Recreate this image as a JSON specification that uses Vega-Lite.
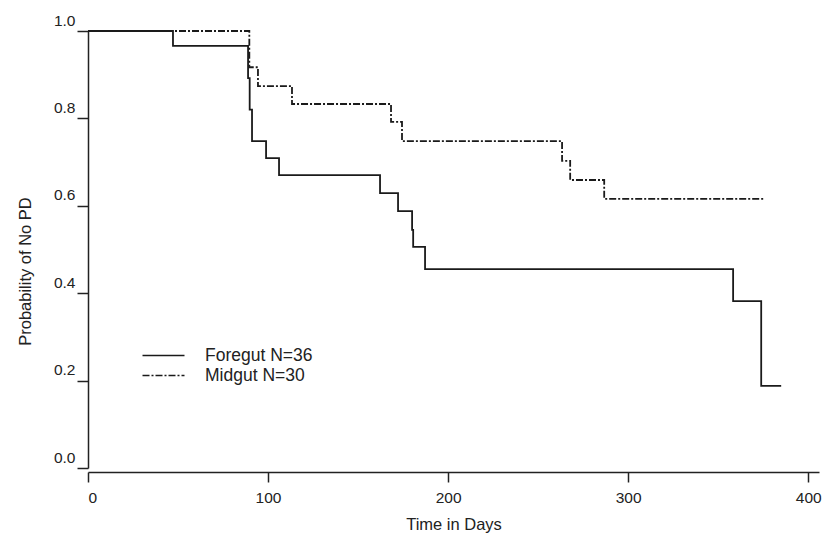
{
  "$schema": "https://vega.github.io/schema/vega-lite/v6.json",
  "autosize": "none",
  "width": 731,
  "height": 437,
  "padding": {"left": 88, "top": 31, "right": 14, "bottom": 78},
  "background": "white",
  "config": {
    "font": "Liberation Sans",
    "view": {"stroke": null},
    "axis": {
      "grid": false,
      "domainColor": "#222222",
      "tickColor": "#222222",
      "labelColor": "#222222",
      "titleColor": "#222222",
      "domainWidth": 1.5,
      "tickWidth": 1.5,
      "labelFontSize": 15.5,
      "titleFontSize": 16.5,
      "titleFontWeight": "normal"
    }
  },
  "data": {
    "values": [
      {"group": "Midgut N=30", "day": 0, "p": 1.0},
      {"group": "Midgut N=30", "day": 89.6, "p": 0.917},
      {"group": "Midgut N=30", "day": 94.4, "p": 0.874},
      {"group": "Midgut N=30", "day": 113.3, "p": 0.833},
      {"group": "Midgut N=30", "day": 168.3, "p": 0.792},
      {"group": "Midgut N=30", "day": 174.4, "p": 0.748},
      {"group": "Midgut N=30", "day": 263.3, "p": 0.703},
      {"group": "Midgut N=30", "day": 267.8, "p": 0.659},
      {"group": "Midgut N=30", "day": 286.7, "p": 0.616},
      {"group": "Midgut N=30", "day": 375, "p": 0.616},
      {"group": "Foregut N=36", "day": 0, "p": 1.0},
      {"group": "Foregut N=36", "day": 47.2, "p": 0.966},
      {"group": "Foregut N=36", "day": 88.9, "p": 0.892},
      {"group": "Foregut N=36", "day": 89.8, "p": 0.82},
      {"group": "Foregut N=36", "day": 91.1, "p": 0.748},
      {"group": "Foregut N=36", "day": 98.9, "p": 0.709},
      {"group": "Foregut N=36", "day": 106.1, "p": 0.67},
      {"group": "Foregut N=36", "day": 162.2, "p": 0.629},
      {"group": "Foregut N=36", "day": 172.2, "p": 0.588},
      {"group": "Foregut N=36", "day": 180, "p": 0.545},
      {"group": "Foregut N=36", "day": 180.6, "p": 0.506},
      {"group": "Foregut N=36", "day": 187.2, "p": 0.455},
      {"group": "Foregut N=36", "day": 358.3, "p": 0.382},
      {"group": "Foregut N=36", "day": 373.9, "p": 0.188},
      {"group": "Foregut N=36", "day": 385, "p": 0.188}
    ]
  },
  "mark": {"type": "line", "interpolate": "step-after", "strokeWidth": 1.8, "color": "#1a1a1a"},
  "encoding": {
    "x": {
      "field": "day",
      "type": "quantitative",
      "scale": {"domain": [0, 406], "nice": false, "zero": false},
      "axis": {
        "values": [0, 100, 200, 300, 400],
        "title": "Time in Days",
        "offset": 4,
        "tickSize": 10,
        "labelPadding": 8,
        "titlePadding": 11
      }
    },
    "y": {
      "field": "p",
      "type": "quantitative",
      "scale": {"domain": [0, 1], "nice": false},
      "axis": {
        "values": [0, 0.2, 0.4, 0.6, 0.8, 1.0],
        "format": ".1f",
        "title": "Probability of No PD",
        "tickSize": 11,
        "labelPadding": 2,
        "labelOffset": -11,
        "titlePadding": 20,
        "titleY": 240
      }
    },
    "strokeDash": {
      "field": "group",
      "type": "nominal",
      "scale": {
        "domain": ["Foregut N=36", "Midgut N=30"],
        "range": [[1, 0], [7, 2, 2, 2]]
      },
      "legend": {
        "title": null,
        "orient": "none",
        "legendX": 64,
        "legendY": 313,
        "rowPadding": 0,
        "symbolType": "M-2,0H2",
        "symbolSize": 441,
        "symbolStrokeWidth": 1.6,
        "symbolStrokeColor": "#1a1a1a",
        "labelFontSize": 17.5,
        "labelColor": "#222222",
        "labelOffset": 30
      }
    },
    "order": {"field": "day", "type": "quantitative"}
  }
}
